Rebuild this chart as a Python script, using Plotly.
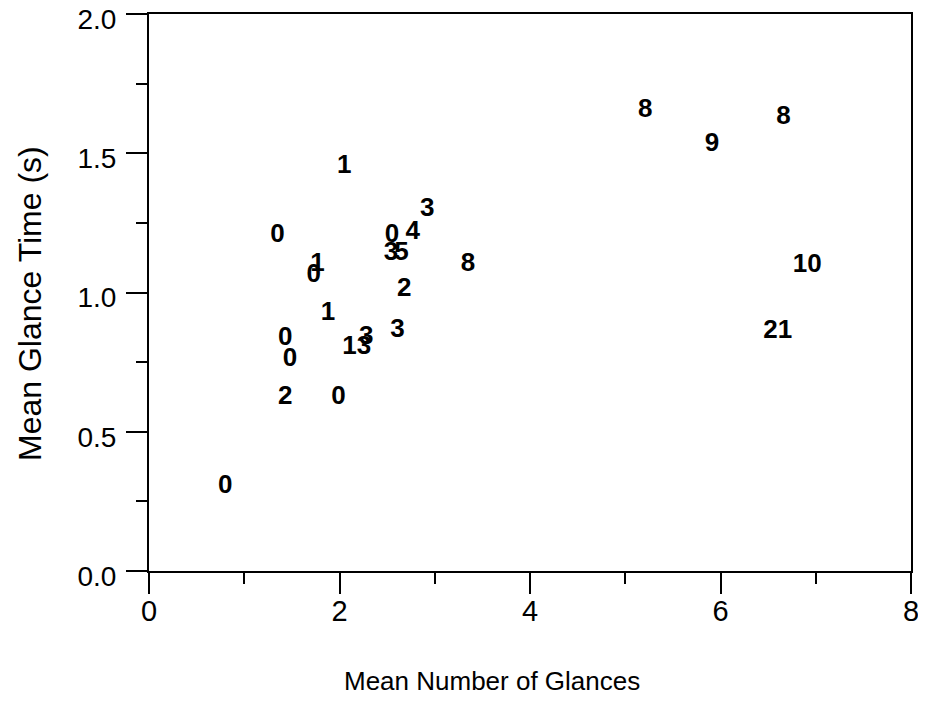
import plotly.graph_objects as go

# Data: each label placed at (mean glances, mean glance time)
labels = ["0", "2", "0", "0", "0", "1", "13", "3", "3", "2", "0", "3", "5", "4", "3", "8",
          "0", "1", "0", "1", "8", "9", "8", "10", "21"]
mean_glances = [0.80, 1.43, 1.99, 1.43, 1.48, 1.88, 2.18, 2.28, 2.61, 2.68, 2.55, 2.54, 2.65,
                2.77, 2.92, 3.35, 1.35, 1.77, 1.73, 2.05, 5.21, 5.91, 6.66, 6.91, 6.60]
mean_glance_time = [0.303, 0.623, 0.623, 0.835, 0.76, 0.925, 0.803, 0.839, 0.864, 1.01, 1.205,
                    1.141, 1.141, 1.217, 1.299, 1.10, 1.206, 1.10, 1.06, 1.454, 1.655, 1.533,
                    1.63, 1.098, 0.86]

x_ticks = [0, 2, 4, 6, 8]
y_ticks = [0.0, 0.5, 1.0, 1.5, 2.0]
y_tick_text = ["0.0", "0.5", "1.0", "1.5", "2.0"]
x_title = "Mean Number of Glances"
y_title = "Mean Glance Time (s)"

fig = go.Figure(go.Scatter(
    x=mean_glances, y=mean_glance_time, text=labels, mode="text",
    textposition="middle center",
    textfont=dict(family="Liberation Sans, Arial", size=26, color="black", weight="bold"),
    showlegend=False, hoverinfo="x+y+text",
))

axis_common = dict(
    showline=True, linecolor="black", linewidth=2, mirror=True,
    showgrid=False, zeroline=False, automargin=False,
    ticks="outside", ticklen=21, tickwidth=2, tickcolor="black",
    ticklabeloverflow="allow",
)

fig.update_xaxes(
    range=[0, 8], tickvals=x_ticks,
    minor=dict(dtick=1, ticklen=11, tickwidth=2, tickcolor="black", ticks="outside"),
    tickfont=dict(family="Liberation Sans, Arial", size=29, color="black"),
    ticklabelstandoff=-8,
    **axis_common,
)
fig.update_yaxes(
    range=[0, 2], tickvals=y_ticks, ticktext=y_tick_text,
    minor=dict(dtick=0.25, ticklen=11, tickwidth=2, tickcolor="black", ticks="outside"),
    tickfont=dict(family="Liberation Sans, Arial", size=28, color="black"),
    ticklabelstandoff=4, ticklabelshift=5,
    **axis_common,
)

fig.add_annotation(text=x_title, xref="paper", yref="paper", x=0.45, y=-0.197,
                   xanchor="center", yanchor="middle", showarrow=False,
                   font=dict(family="Liberation Sans, Arial", size=26, color="black"))
fig.add_annotation(text=y_title, xref="paper", yref="paper", x=-0.157, y=0.48,
                   xanchor="center", yanchor="middle", showarrow=False, textangle=-90,
                   font=dict(family="Liberation Sans, Arial", size=32, color="black"))

# the page body has an 8px margin, so the figure is offset by 8px
fig.update_layout(
    width=910, height=700,
    margin=dict(l=141, r=7, t=6, b=137),
    plot_bgcolor="white", paper_bgcolor="white",
)

fig.write_html("out.html")
